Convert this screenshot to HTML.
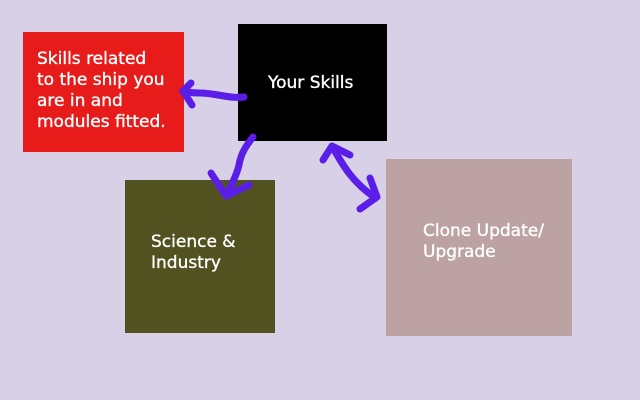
<!DOCTYPE html>
<html><head><meta charset="utf-8"><style>
html,body{margin:0;padding:0;}
body{width:640px;height:400px;background:#d8d0e6;position:relative;overflow:hidden;font-family:"DejaVu Sans","Liberation Sans",sans-serif;}
.b{position:absolute;}
.t{position:absolute;color:#fff;font-size:17px;line-height:21px;white-space:nowrap;-webkit-text-stroke:0.35px #fff;}
</style></head><body>
<div class="b" style="left:23px;top:32px;width:161px;height:120px;background:#e81b1b"></div>
<div class="b" style="left:238px;top:24px;width:149px;height:117px;background:#000"></div>
<div class="b" style="left:125px;top:180px;width:150px;height:153px;background:#525220"></div>
<div class="b" style="left:386px;top:159px;width:186px;height:177px;background:#bca2a2"></div>
<div class="t" style="left:37px;top:49px;">Skills related<br>to the ship you<br>are in and<br>modules fitted.</div>
<div class="t" style="left:268px;top:73px;">Your Skills</div>
<div class="t" style="left:151px;top:232px;">Science &amp;<br>Industry</div>
<div class="t" style="left:423px;top:221px;">Clone Update/<br>Upgrade</div>
<svg class="b" style="left:0;top:0" width="640" height="400" viewBox="0 0 640 400">
<g fill="none" stroke="#5a1ee8" stroke-width="7" stroke-linecap="round" stroke-linejoin="round">
<path d="M244,97 C230,99 215,93 200,93 C192,93 186,92 183,91"/>
<path d="M191,83 L183,91 L192,105"/>
<path d="M253,137 C246,146 241,153 239,165 C236,178 230,186 227,196"/>
<path d="M211,173 L226,196 L249,185"/>
<path d="M333,148 C342,163 350,180 374,197"/>
<path d="M323,160 L332,146 L350,155"/>
<path d="M370,178 L377,197 L360,209"/>
</g>
</svg>
</body></html>
